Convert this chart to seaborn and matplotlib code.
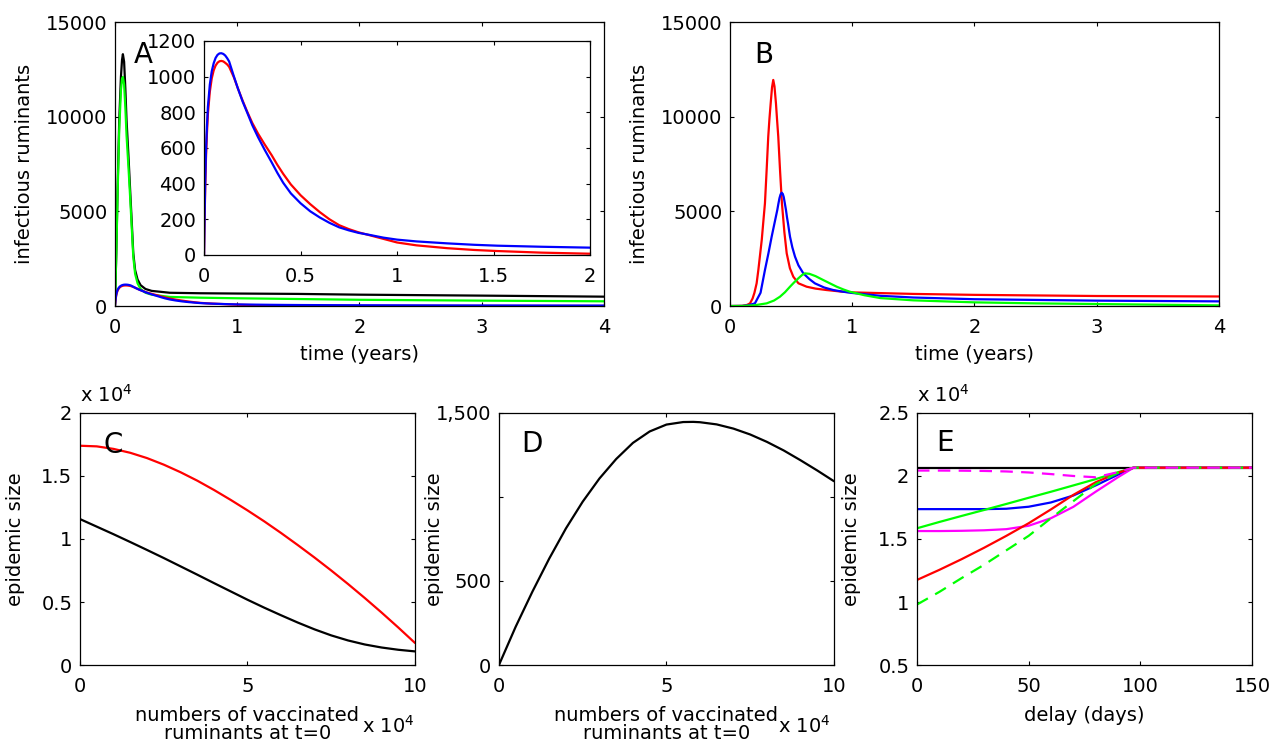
import matplotlib
matplotlib.use("Agg")
import matplotlib.pyplot as plt
import seaborn as sns
from matplotlib.ticker import FixedLocator, FixedFormatter

# ---------------- data ----------------
# Panel A (main): large outbreaks
a_t_big = [0, 0.011, 0.022, 0.035, 0.049, 0.058, 0.065, 0.075, 0.085, 0.095, 0.11,
           0.123, 0.137, 0.15, 0.165, 0.185, 0.21, 0.25, 0.3, 0.45, 0.7, 1.0, 1.5,
           2.0, 3.0, 4.0]
a_black = [0, 2800, 6300, 9800, 12100, 13000, 13300, 12900, 11500, 9800, 8000,
           6300, 4500, 2800, 1900, 1400, 1100, 900, 800, 700, 675, 660, 640,
           600, 550, 495]
a_green = [0, 2700, 6000, 9300, 11400, 12000, 12100, 11700, 10500, 9000, 7400,
           5900, 4200, 2600, 1700, 1200, 900, 700, 600, 480, 440, 410, 370,
           330, 285, 250]
# Panel A (inset + main): small outbreaks
a_t_small = [0, 0.003, 0.006, 0.01, 0.015, 0.02, 0.03, 0.04, 0.05, 0.06, 0.07, 0.08,
             0.09, 0.1, 0.11, 0.12, 0.13, 0.155, 0.175, 0.2, 0.223, 0.25, 0.28, 0.314,
             0.35, 0.38, 0.41, 0.45, 0.5, 0.55, 0.6, 0.65, 0.7, 0.75, 0.8, 0.86,
             0.93, 1.0, 1.1, 1.26, 1.4, 1.52, 1.75, 2.0, 3.0, 4.0]
a_red = [0, 200, 370, 540, 680, 790, 915, 990, 1035, 1062, 1078, 1086,
         1088, 1085, 1077, 1068, 1055, 995, 935, 865, 805, 740, 680, 620,
         560, 505, 455, 395, 335, 285, 240, 200, 167, 145, 127, 110,
         90, 70, 54, 38, 28, 22, 13, 7, 2, 1]
a_blue = [0, 220, 400, 580, 720, 830, 955, 1030, 1075, 1105, 1122, 1130,
          1131, 1127, 1118, 1103, 1085, 1000, 935, 860, 800, 728, 660, 590,
          520, 460, 405, 345, 290, 245, 210, 180, 155, 138, 124, 112,
          97, 86, 76, 65, 57, 52, 46, 41, 30, 25]

# Panel B
b_t_red = [0, 0.1, 0.14, 0.164, 0.185, 0.2, 0.218, 0.232, 0.246, 0.26, 0.272, 0.286,
           0.3, 0.313, 0.323, 0.333, 0.344, 0.354, 0.364, 0.376, 0.385, 0.395, 0.41,
           0.425, 0.445, 0.464, 0.49, 0.518, 0.56, 0.627, 0.7, 0.79, 0.9, 1.0,
           1.5, 2.0, 3.0, 4.0]
b_red = [0, 10, 60, 141, 400, 700, 1200, 1902, 2700, 3500, 4400, 5425,
         7200, 8943, 9900, 10708, 11550, 11940, 11600, 10708, 9850, 8943, 7100,
         5425, 3900, 2783, 2000, 1549, 1200, 1021, 920, 845, 770, 720,
         640, 590, 530, 505]
b_t_blue = [0, 0.1, 0.15, 0.204, 0.25, 0.286, 0.315, 0.341, 0.365, 0.387, 0.396, 0.405,
            0.414, 0.423, 0.432, 0.44, 0.448, 0.458, 0.466, 0.475, 0.483, 0.491, 0.51,
            0.532, 0.56, 0.6, 0.65, 0.695, 0.77, 0.845, 0.92, 1.0, 1.23, 1.5, 2.0,
            3.0, 4.0]
b_blue = [0, 5, 40, 141, 700, 1902, 2800, 3663, 4400, 5072, 5400, 5700,
          5900, 5985, 5920, 5750, 5450, 5072, 4700, 4350, 4000, 3663, 3100,
          2606, 2150, 1726, 1420, 1197, 980, 845, 760, 690, 540, 450, 360,
          285, 246]
b_t_green = [0, 0.1, 0.2, 0.3, 0.36, 0.409, 0.45, 0.491, 0.525, 0.559, 0.59, 0.614,
             0.65, 0.7, 0.763, 0.82, 0.873, 0.93, 0.98, 1.1, 1.23, 1.5, 2.0, 2.5,
             3.0, 4.0]
b_green = [0, 5, 40, 141, 290, 493, 730, 1021, 1250, 1461, 1640, 1726,
           1700, 1580, 1373, 1190, 1021, 870, 757, 570, 420, 300, 194, 140,
           106, 35]

# Panel C (x in units of 1e4, y in units of 1e4)
c_x = [0, 0.5, 1, 1.5, 2, 2.5, 3, 3.5, 4, 4.5, 5, 5.5, 6, 6.5, 7, 7.5, 8, 8.5, 9, 9.5, 10]
c_red = [1.74, 1.735, 1.715, 1.684, 1.642, 1.59, 1.53, 1.463, 1.389, 1.31, 1.227,
         1.14, 1.048, 0.952, 0.853, 0.75, 0.643, 0.532, 0.417, 0.298, 0.175]
c_black = [1.158, 1.098, 1.038, 0.976, 0.913, 0.849, 0.783, 0.717, 0.65, 0.584, 0.518,
           0.455, 0.395, 0.337, 0.283, 0.235, 0.195, 0.163, 0.139, 0.121, 0.108]

# Panel D
d_x = [0, 0.5, 1, 1.5, 2, 2.5, 3, 3.5, 4, 4.5, 5, 5.5, 5.8, 6, 6.5, 7, 7.5, 8, 8.5, 9, 9.5, 10]
d_black = [0, 228, 437, 633, 813, 972, 1110, 1226, 1322, 1390, 1431, 1446, 1447, 1445,
           1432, 1407, 1372, 1328, 1277, 1219, 1158, 1094]

# Panel E (y in units of 1e4)
e_days = [0, 10, 20, 30, 40, 50, 60, 70, 80, 90, 97, 150]
e_black = [2.066, 2.066, 2.066, 2.066, 2.066, 2.066, 2.066, 2.066, 2.066, 2.066, 2.066, 2.066]
e_blue = [1.737, 1.737, 1.737, 1.737, 1.74, 1.756, 1.79, 1.845, 1.925, 2.01, 2.066, 2.066]
e_green = [1.585, 1.635, 1.683, 1.73, 1.778, 1.827, 1.875, 1.925, 1.975, 2.03, 2.066, 2.066]
e_magenta = [1.563, 1.563, 1.565, 1.569, 1.578, 1.605, 1.665, 1.755, 1.875, 1.99, 2.066, 2.066]
e_red = [1.175, 1.255, 1.34, 1.43, 1.525, 1.625, 1.735, 1.85, 1.95, 2.025, 2.066, 2.066]
e_green_dash = [0.98, 1.08, 1.19, 1.295, 1.41, 1.525, 1.665, 1.8, 1.935, 2.025, 2.066, 2.066]
e_magenta_dash = [2.043, 2.043, 2.042, 2.04, 2.036, 2.028, 2.015, 2.0, 1.99, 2.03, 2.066, 2.066]

# ---------------- style ----------------
sns.set_theme(style="white")
plt.rcParams.update({
    "font.family": ["DejaVu Sans"],
    "font.size": 14,
    "text.color": "black",
    "axes.labelcolor": "black",
    "axes.edgecolor": "black",
    "axes.linewidth": 0.9,
    "xtick.direction": "in",
    "ytick.direction": "in",
    "xtick.top": True,
    "ytick.right": True,
    "xtick.bottom": True,
    "ytick.left": True,
    "xtick.major.size": 3.2,
    "ytick.major.size": 3.2,
    "xtick.major.width": 0.8,
    "ytick.major.width": 0.8,
    "xtick.major.pad": 8.5,
    "ytick.major.pad": 5.5,
    "xtick.labelsize": 14,
    "ytick.labelsize": 14,
    "xtick.color": "black",
    "ytick.color": "black",
    "xtick.labelcolor": "black",
    "ytick.labelcolor": "black",
    "lines.scale_dashes": False,
    "axes.facecolor": "white",
})

RED, BLUE, GREEN, BLACK, MAG = "#ff0000", "#0000ff", "#00ff00", "#000000", "#ff00ff"
LW = 1.6


def line(ax, x, y, color, ls="-"):
    sns.lineplot(x=x, y=y, ax=ax, color=color, linewidth=LW, linestyle=ls,
                 estimator=None, errorbar=None, sort=True)


def setticks(ax, xt, xl, yt, yl):
    ax.xaxis.set_major_locator(FixedLocator(xt))
    ax.xaxis.set_major_formatter(FixedFormatter(xl))
    ax.yaxis.set_major_locator(FixedLocator(yt))
    ax.yaxis.set_major_formatter(FixedFormatter(yl))
    ax.minorticks_off()
    ax.tick_params(colors="black", labelcolor="black")
    for s in ax.spines.values():
        s.set_visible(True)
        s.set_color("black")
        s.set_linewidth(0.9)


fig = plt.figure(figsize=(12.8, 7.51), dpi=100)
axA = fig.add_axes([0.0898, 0.5925, 0.3820, 0.3782])
axIn = fig.add_axes([0.1594, 0.6605, 0.3016, 0.2850])
axB = fig.add_axes([0.5703, 0.5925, 0.3820, 0.3782])
axC = fig.add_axes([0.0625, 0.1145, 0.2617, 0.3356])
axD = fig.add_axes([0.3898, 0.1145, 0.2617, 0.3356])
axE = fig.add_axes([0.7164, 0.1145, 0.2617, 0.3356])

# ---- A ----
line(axA, a_t_big, a_black, BLACK)
line(axA, a_t_big, a_green, GREEN)
line(axA, a_t_small, a_red, RED)
line(axA, a_t_small, a_blue, BLUE)
axA.set_xlim(0, 4)
axA.set_ylim(0, 15000)
setticks(axA, [0, 1, 2, 3, 4], ["0", "1", "2", "3", "4"],
         [0, 5000, 10000, 15000], ["0", "5000", "10000", "15000"])
axA.set_xlabel("time (years)", fontsize=14)
axA.set_ylabel("infectious ruminants", fontsize=14)
axA.xaxis.set_label_coords(0.5, -0.137)
axA.yaxis.set_label_coords(-0.166, 0.5)
axA.text(0.038, 0.856, "A", transform=axA.transAxes, fontsize=20, ha="left", va="baseline")

# inset
line(axIn, a_t_small, a_red, RED)
line(axIn, a_t_small, a_blue, BLUE)
axIn.set_xlim(0, 2)
axIn.set_ylim(0, 1200)
setticks(axIn, [0, 0.5, 1, 1.5, 2], ["0", "0.5", "1", "1.5", "2"],
         [0, 200, 400, 600, 800, 1000, 1200],
         ["0", "200", "400", "600", "800", "1000", "1200"])
axIn.set_xlabel("")
axIn.set_ylabel("")

# ---- B ----
line(axB, b_t_red, b_red, RED)
line(axB, b_t_blue, b_blue, BLUE)
line(axB, b_t_green, b_green, GREEN)
axB.set_xlim(0, 4)
axB.set_ylim(0, 15000)
setticks(axB, [0, 1, 2, 3, 4], ["0", "1", "2", "3", "4"],
         [0, 5000, 10000, 15000], ["0", "5000", "10000", "15000"])
axB.set_xlabel("time (years)", fontsize=14)
axB.set_ylabel("infectious ruminants", fontsize=14)
axB.xaxis.set_label_coords(0.5, -0.137)
axB.yaxis.set_label_coords(-0.166, 0.5)
axB.text(0.049, 0.856, "B", transform=axB.transAxes, fontsize=20, ha="left", va="baseline")

# ---- C ----
line(axC, c_x, c_black, BLACK)
line(axC, c_x, c_red, RED)
axC.set_xlim(0, 10)
axC.set_ylim(0, 2)
setticks(axC, [0, 5, 10], ["0", "5", "10"],
         [0, 0.5, 1, 1.5, 2], ["0", "0.5", "1", "1.5", "2"])
axC.set_xlabel("numbers of vaccinated\nruminants at t=0", fontsize=14, linespacing=0.95)
axC.set_ylabel("epidemic size", fontsize=14)
axC.xaxis.set_label_coords(0.5, -0.163)
axC.yaxis.set_label_coords(-0.164, 0.5)
axC.text(0.069, 0.841, "C", transform=axC.transAxes, fontsize=20, ha="left", va="baseline")
axC.text(0.0, 1.044, r"x 10$^4$", transform=axC.transAxes, fontsize=14, ha="left", va="baseline")
axC.text(1.0, -0.27, r"x 10$^4$", transform=axC.transAxes, fontsize=14, ha="right", va="baseline")

# ---- D ----
line(axD, d_x, d_black, BLACK)
axD.set_xlim(0, 10)
axD.set_ylim(0, 1500)
setticks(axD, [0, 5, 10], ["0", "5", "10"],
         [0, 500, 1000, 1500], ["0", "500", "", "1,500"])
axD.set_xlabel("numbers of vaccinated\nruminants at t=0", fontsize=14, linespacing=0.95)
axD.set_ylabel("epidemic size", fontsize=14)
axD.xaxis.set_label_coords(0.5, -0.163)
axD.yaxis.set_label_coords(-0.165, 0.5)
axD.text(0.066, 0.845, "D", transform=axD.transAxes, fontsize=20, ha="left", va="baseline")
axD.text(0.99, -0.27, r"x 10$^4$", transform=axD.transAxes, fontsize=14, ha="right", va="baseline")

# ---- E ----
line(axE, e_days, e_black, BLACK)
line(axE, e_days, e_blue, BLUE)
line(axE, e_days, e_green, GREEN)
line(axE, e_days, e_magenta, MAG)
line(axE, e_days, e_red, RED)
line(axE, e_days, e_green_dash, GREEN, ls=(0, (9, 6)))
line(axE, e_days, e_magenta_dash, MAG, ls=(0, (9, 6)))
axE.set_xlim(0, 150)
axE.set_ylim(0.5, 2.5)
setticks(axE, [0, 50, 100, 150], ["0", "50", "100", "150"],
         [0.5, 1, 1.5, 2, 2.5], ["0.5", "1", "1.5", "2", "2.5"])
axE.set_xlabel("delay (days)", fontsize=14)
axE.set_ylabel("epidemic size", fontsize=14)
axE.xaxis.set_label_coords(0.5, -0.163)
axE.yaxis.set_label_coords(-0.167, 0.5)
axE.text(0.057, 0.849, "E", transform=axE.transAxes, fontsize=20, ha="left", va="baseline")
axE.text(0.0, 1.044, r"x 10$^4$", transform=axE.transAxes, fontsize=14, ha="left", va="baseline")

for ax in [axA, axIn, axB, axC, axD, axE]:
    leg = ax.get_legend()
    if leg is not None:
        leg.remove()

fig.savefig("out.png", dpi=100, facecolor="white")
